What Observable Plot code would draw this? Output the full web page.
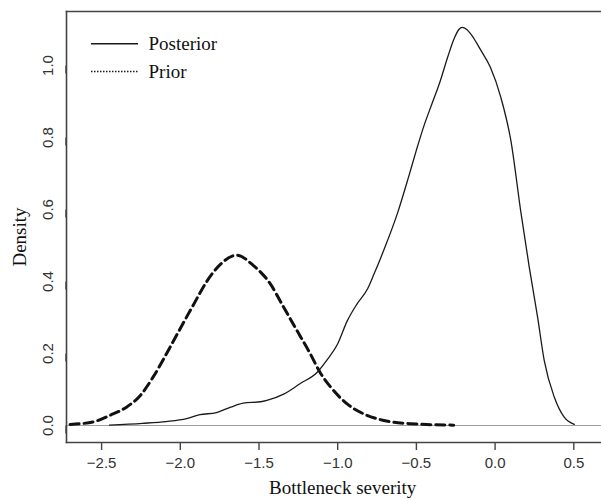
<!DOCTYPE html>
<html>
<head>
<meta charset="utf-8">
<script src="https://cdn.jsdelivr.net/npm/d3@7"></script>
<script src="https://cdn.jsdelivr.net/npm/@observablehq/plot@0.6"></script>
<style>
  html, body { margin: 0; padding: 0; background: #fff; }
  #chart svg { display: block; }
</style>
</head>
<body>
<div id="chart"></div>
<script>
// ---- Data ----
const posteriorX = [-2.45, -2.24, -2.09, -1.96, -1.875, -1.77, -1.68, -1.60, -1.49, -1.45, -1.34, -1.24, -1.13, -1.07, -1.00, -0.94, -0.88, -0.81, -0.77, -0.73, -0.70, -0.62, -0.55, -0.50, -0.45, -0.40, -0.35, -0.30, -0.26, -0.23, -0.21, -0.18, -0.155, -0.09, -0.03, 0.036, 0.10, 0.163, 0.217, 0.270, 0.312, 0.376, 0.439, 0.503];
const posteriorY = [0.001, 0.006, 0.011, 0.019, 0.030, 0.036, 0.051, 0.062, 0.066, 0.070, 0.088, 0.116, 0.148, 0.181, 0.227, 0.290, 0.336, 0.380, 0.420, 0.462, 0.495, 0.590, 0.690, 0.765, 0.835, 0.895, 0.955, 1.025, 1.075, 1.100, 1.106, 1.100, 1.088, 1.042, 0.995, 0.912, 0.792, 0.595, 0.440, 0.301, 0.181, 0.079, 0.023, 0.003];

const priorX = [-2.70, -2.554, -2.448, -2.342, -2.257, -2.172, -2.087, -2.002, -1.917, -1.832, -1.747, -1.64, -1.535, -1.429, -1.344, -1.259, -1.174, -1.110, -1.047, -0.940, -0.834, -0.707, -0.537, -0.263];
const priorY = [0.003, 0.010, 0.028, 0.051, 0.082, 0.135, 0.200, 0.268, 0.335, 0.400, 0.447, 0.473, 0.444, 0.394, 0.329, 0.264, 0.199, 0.146, 0.108, 0.060, 0.032, 0.014, 0.005, 0.001];

const xTicks = [-2.5, -2.0, -1.5, -1.0, -0.5, 0.0, 0.5];
const yTicks = [0.0, 0.2, 0.4, 0.6, 0.8, 1.0];
const legendLabels = ["Posterior", "Prior"];
const xLabel = "Bottleneck severity";
const yLabel = "Density";

// ---- Build tables ----
const posterior = posteriorX.map((x, i) => ({x, y: posteriorY[i]}));
const prior = priorX.map((x, i) => ({x, y: priorY[i]}));

const sans = "'Liberation Sans', Arial, Helvetica, sans-serif";
const serif = "'Liberation Serif', 'Times New Roman', Times, serif";
const axisColor = "#444";
const fmt = d3.format(".1f");

const chart = Plot.plot({
  width: 601,
  height: 499,
  marginLeft: 66,
  marginRight: 0,
  marginTop: 11,
  marginBottom: 57,
  style: {background: "#fff", color: "#222"},
  x: {domain: [-2.723, 0.676]},
  y: {domain: [-0.0472, 1.15]},
  marks: [
    Plot.ruleY([0], {stroke: "#a0a0a0", strokeWidth: 1}),
    Plot.line(prior, {x: "x", y: "y", stroke: "#111", strokeWidth: 3, strokeDasharray: "9,5", curve: "monotone-x"}),
    Plot.line(posterior, {x: "x", y: "y", stroke: "#1a1a1a", strokeWidth: 1.3, curve: "monotone-x"}),
    Plot.frame({anchor: "top", stroke: axisColor, strokeWidth: 1.6}),
    Plot.frame({anchor: "left", stroke: axisColor, strokeWidth: 1.6}),
    Plot.frame({anchor: "bottom", stroke: axisColor, strokeWidth: 1.6}),
    Plot.axisX({
      ticks: xTicks, tickFormat: fmt, tickSize: 8, tickPadding: 7,
      stroke: axisColor, strokeWidth: 1.4,
      fontSize: 15, fontFamily: sans, fill: "#333", label: null
    }),
    Plot.axisY({
      ticks: yTicks, tickFormat: fmt, tickSize: 8, tickPadding: 6,
      stroke: axisColor, strokeWidth: 1.4,
      rotate: -90, textAnchor: "middle", lineAnchor: "bottom",
      fontSize: 15, fontFamily: sans, fill: "#333", label: null
    }),
    Plot.text([xLabel], {frameAnchor: "bottom", dx: 8.7, dy: 51, lineAnchor: "bottom", fontSize: 19, fontFamily: serif, fill: "#111"}),
    Plot.text([yLabel], {frameAnchor: "left", rotate: -90, dx: -41, dy: 10, textAnchor: "middle", lineAnchor: "bottom", fontSize: 19, fontFamily: serif, fill: "#111"}),
    // legend
    Plot.ruleY([legendLabels[0]], {y: null, insetLeft: 25, insetRight: 463, dy: 43.3 - 226.5, stroke: "#1a1a1a", strokeWidth: 1.4}),
    Plot.ruleY([legendLabels[1]], {y: null, insetLeft: 25, insetRight: 463, dy: 71 - 226.5, stroke: "#1a1a1a", strokeWidth: 1.6, strokeDasharray: "1.5,1.5"}),
    Plot.text([legendLabels[0]], {frameAnchor: "top-left", dx: 82, dy: 32.3, lineAnchor: "middle", textAnchor: "start", fontSize: 19, fontFamily: serif, fill: "#111"}),
    Plot.text([legendLabels[1]], {frameAnchor: "top-left", dx: 82, dy: 60, lineAnchor: "middle", textAnchor: "start", fontSize: 19, fontFamily: serif, fill: "#111"})
  ]
});
document.getElementById("chart").appendChild(chart);
</script>
</body>
</html>
